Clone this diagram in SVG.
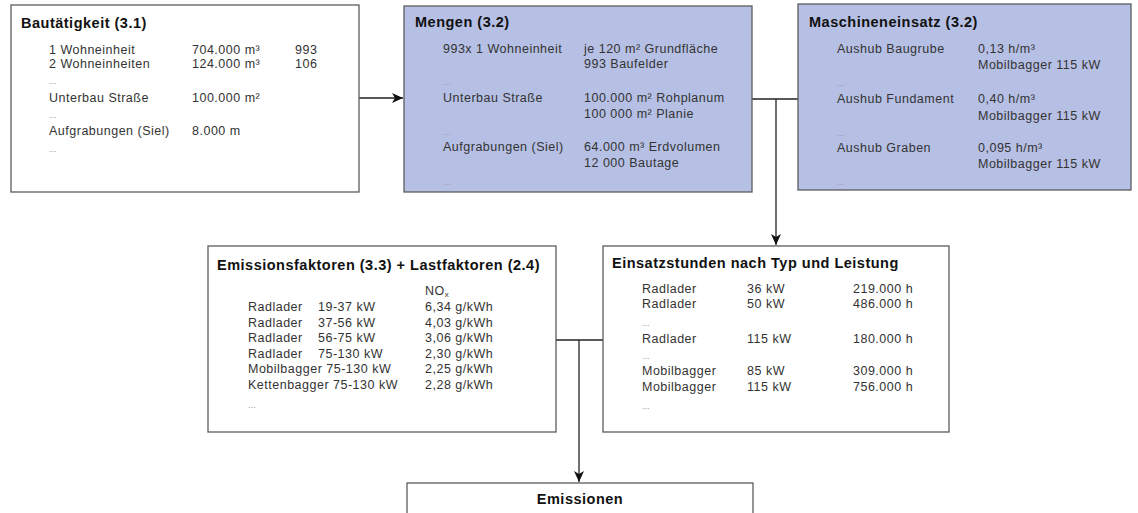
<svg xmlns="http://www.w3.org/2000/svg" width="1138" height="513" viewBox="0 0 1138 513">
<style>
  .box{fill:#ffffff;stroke:#5c5c5c;stroke-width:1.3}
  .blue{fill:#b6bfe4;stroke:#5c5c5c;stroke-width:1.3}
  .t{font-family:"Liberation Sans",Arial,sans-serif;font-size:14.5px;font-weight:bold;fill:#111;letter-spacing:0.5px}
  .b{font-family:"Liberation Sans",Arial,sans-serif;font-size:12.5px;fill:#333;letter-spacing:0.5px}
  .d{font-family:"Liberation Sans",Arial,sans-serif;font-size:9px;fill:#999}
  .c{fill:none;stroke:#222;stroke-width:1.3}
</style>
<defs>
  <marker id="arr" markerWidth="12" markerHeight="12" refX="11" refY="6" orient="auto" markerUnits="userSpaceOnUse">
    <path d="M0,1 L11,6 L0,11 L3,6 Z" fill="#111"/>
  </marker>
</defs>

<g id="connectors">
  <path class="c" d="M359,98 H403" marker-end="url(#arr)"/>
  <path class="c" d="M752,99 H798"/>
  <path class="c" d="M776,99 V245" marker-end="url(#arr)"/>
  <path class="c" d="M556,340 H603"/>
  <path class="c" d="M579,340 V482" marker-end="url(#arr)"/>
</g>

<g id="bautaetigkeit">
  <rect class="box" x="11" y="5" width="348" height="187"/>
  <text class="t" x="21" y="28">Bautätigkeit (3.1)</text>
  <text class="b" x="49" y="54">1 Wohneinheit</text>
  <text class="b" x="192" y="54">704.000 m³</text>
  <text class="b" x="295" y="54">993</text>
  <text class="b" x="49" y="68">2 Wohneinheiten</text>
  <text class="b" x="192" y="68">124.000 m³</text>
  <text class="b" x="295" y="68">106</text>
  <text class="d" x="49" y="84">...</text>
  <text class="b" x="49" y="102">Unterbau Straße</text>
  <text class="b" x="192" y="102">100.000 m²</text>
  <text class="d" x="49" y="118">...</text>
  <text class="b" x="49" y="135">Aufgrabungen (Siel)</text>
  <text class="b" x="192" y="135">8.000 m</text>
  <text class="d" x="49" y="152">...</text>
</g>

<g id="mengen">
  <rect class="blue" x="404" y="6" width="348" height="186"/>
  <text class="t" x="415" y="27">Mengen (3.2)</text>
  <text class="b" x="443" y="53">993x 1 Wohneinheit</text>
  <text class="b" x="584" y="53">je 120 m² Grundfläche</text>
  <text class="b" x="584" y="68">993 Baufelder</text>
  <text class="d" x="443" y="85">...</text>
  <text class="b" x="443" y="102">Unterbau Straße</text>
  <text class="b" x="584" y="102">100.000 m² Rohplanum</text>
  <text class="b" x="584" y="118">100 000 m² Planie</text>
  <text class="d" x="443" y="135">...</text>
  <text class="b" x="443" y="151">Aufgrabungen (Siel)</text>
  <text class="b" x="584" y="151">64.000 m³ Erdvolumen</text>
  <text class="b" x="584" y="167">12 000 Bautage</text>
  <text class="d" x="443" y="185">...</text>
</g>

<g id="maschineneinsatz">
  <rect class="blue" x="798" y="4" width="333" height="186"/>
  <text class="t" x="809" y="27">Maschineneinsatz (3.2)</text>
  <text class="b" x="837" y="53">Aushub Baugrube</text>
  <text class="b" x="978" y="53">0,13 h/m³</text>
  <text class="b" x="978" y="69">Mobilbagger 115 kW</text>
  <text class="d" x="837" y="86">...</text>
  <text class="b" x="837" y="103">Aushub Fundament</text>
  <text class="b" x="978" y="103">0,40 h/m³</text>
  <text class="b" x="978" y="120">Mobilbagger 115 kW</text>
  <text class="d" x="837" y="136">...</text>
  <text class="b" x="837" y="152">Aushub Graben</text>
  <text class="b" x="978" y="152">0,095 h/m³</text>
  <text class="b" x="978" y="168">Mobilbagger 115 kW</text>
  <text class="d" x="837" y="185">...</text>
</g>

<g id="emissionsfaktoren">
  <rect class="box" x="208" y="246" width="348" height="186"/>
  <text class="t" x="217" y="270">Emissionsfaktoren (3.3) + Lastfaktoren (2.4)</text>
  <text class="b" x="425" y="295">NO<tspan font-size="8" dy="2">x</tspan></text>
  <text class="b" x="248" y="311">Radlader</text><text class="b" x="318" y="311">19-37 kW</text><text class="b" x="425" y="311">6,34 g/kWh</text>
  <text class="b" x="248" y="326.5">Radlader</text><text class="b" x="318" y="326.5">37-56 kW</text><text class="b" x="425" y="326.5">4,03 g/kWh</text>
  <text class="b" x="248" y="342">Radlader</text><text class="b" x="318" y="342">56-75 kW</text><text class="b" x="425" y="342">3,06 g/kWh</text>
  <text class="b" x="248" y="357.5">Radlader</text><text class="b" x="318" y="357.5">75-130 kW</text><text class="b" x="425" y="357.5">2,30 g/kWh</text>
  <text class="b" x="248" y="373">Mobilbagger 75-130 kW</text><text class="b" x="425" y="373">2,25 g/kWh</text>
  <text class="b" x="248" y="388.5">Kettenbagger 75-130 kW</text><text class="b" x="425" y="388.5">2,28 g/kWh</text>
  <text class="d" x="248" y="408">...</text>
</g>

<g id="einsatzstunden">
  <rect class="box" x="603" y="246" width="346" height="186"/>
  <text class="t" x="612" y="268">Einsatzstunden nach Typ und Leistung</text>
  <text class="b" x="642" y="293">Radlader</text><text class="b" x="747" y="293">36 kW</text><text class="b" x="853" y="293">219.000 h</text>
  <text class="b" x="642" y="308">Radlader</text><text class="b" x="747" y="308">50 kW</text><text class="b" x="853" y="308">486.000 h</text>
  <text class="d" x="642" y="326">...</text>
  <text class="b" x="642" y="343">Radlader</text><text class="b" x="747" y="343">115 kW</text><text class="b" x="853" y="343">180.000 h</text>
  <text class="d" x="642" y="359">...</text>
  <text class="b" x="642" y="375">Mobilbagger</text><text class="b" x="747" y="375">85 kW</text><text class="b" x="853" y="375">309.000 h</text>
  <text class="b" x="642" y="391">Mobilbagger</text><text class="b" x="747" y="391">115 kW</text><text class="b" x="853" y="391">756.000 h</text>
  <text class="d" x="642" y="409">...</text>
</g>

<g id="emissionen">
  <rect class="box" x="407" y="483" width="346" height="40"/>
  <text class="t" x="580" y="504" text-anchor="middle">Emissionen</text>
</g>
</svg>
